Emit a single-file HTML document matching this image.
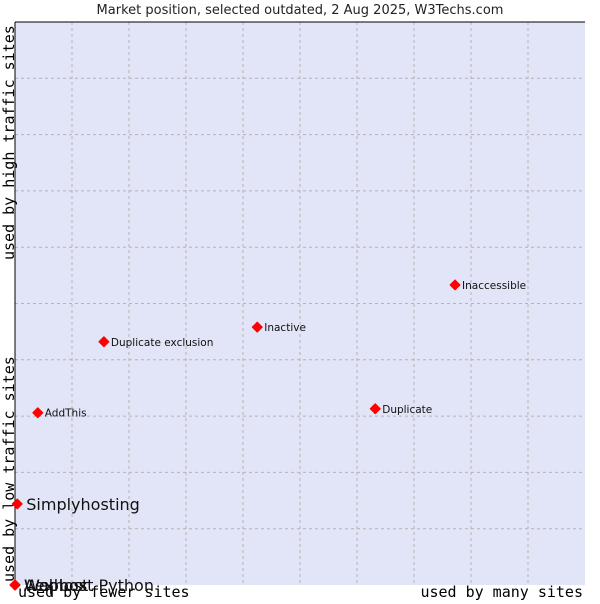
<!DOCTYPE html>
<html><head><meta charset="utf-8"><style>
body{margin:0;background:#fff;width:600px;height:600px;overflow:hidden;font-family:"DejaVu Sans","Liberation Sans",sans-serif}
</style></head><body>
<svg width="600" height="600">
<text x="300" y="14" text-anchor="middle" font-size="13" fill="#222">Market position, selected outdated, 2 Aug 2025, W3Techs.com</text>
<rect x="15" y="22" width="570" height="563" fill="#e2e4f7"/>
<g id="grid"></g>
<line x1="15" y1="22" x2="585" y2="22" stroke="#000"/>
<line x1="15" y1="22" x2="15" y2="585" stroke="#000"/>
<text transform="translate(14,260) rotate(-90)" font-family="DejaVu Sans Mono,Liberation Mono,monospace" font-size="15" fill="#000">used by high traffic sites</text>
<text transform="translate(14,582) rotate(-90)" font-family="DejaVu Sans Mono,Liberation Mono,monospace" font-size="15" fill="#000">used by low traffic sites</text>
<text x="18" y="597" font-family="DejaVu Sans Mono,Liberation Mono,monospace" font-size="15" fill="#000">used by fewer sites</text>
<text x="583" y="597" text-anchor="end" font-family="DejaVu Sans Mono,Liberation Mono,monospace" font-size="15" fill="#000">used by many sites</text>
<g id="pts"></g>
</svg>
<script>
const names=["Wapbox","Aexhost","Webhost Python","Simplyhosting","AddThis","Duplicate exclusion","Inactive","Duplicate","Inaccessible"];
const xVals=[0,0,0,0.004,0.040,0.156,0.425,0.632,0.772];
const yVals=[0,0,0,0.144,0.306,0.432,0.458,0.313,0.533];
const big=[true,true,true,true,false,false,false,false,false];
const X0=15,X1=585,Y0=585,Y1=22;
const sx=v=>X0+v*(X1-X0), sy=v=>Y0-v*(Y0-Y1);
const ns="http://www.w3.org/2000/svg";
const grid=document.getElementById('grid');
for(let i=1;i<10;i++){
 const l=document.createElementNS(ns,'line');
 l.setAttribute('x1',sx(i/10));l.setAttribute('x2',sx(i/10));l.setAttribute('y1',Y1);l.setAttribute('y2',Y0);
 l.setAttribute('stroke','#b4b4b4');l.setAttribute('stroke-dasharray','3,3');
 
 
 grid.appendChild(l);
 const h=document.createElementNS(ns,'line');
 h.setAttribute('y1',sy(i/10));h.setAttribute('y2',sy(i/10));h.setAttribute('x1',X0);h.setAttribute('x2',X1);
 h.setAttribute('stroke','#b4b4b4');h.setAttribute('stroke-dasharray','3,3');
 
 
 grid.appendChild(h);
}
const pts=document.getElementById('pts');
names.forEach((n,i)=>{
 const x=sx(xVals[i]),y=sy(yVals[i]);
 const p=document.createElementNS(ns,'polygon');
 p.setAttribute('points',`${x},${y-5} ${x+5},${y} ${x},${y+5} ${x-5},${y}`);
 p.setAttribute('fill','#f00');
 p.setAttribute('stroke','#f00');
 p.setAttribute('stroke-linejoin','round');
 
 
 pts.appendChild(p);
 const t=document.createElementNS(ns,'text');
 t.setAttribute('x',x+(big[i]?9:7));t.setAttribute('y',y+(big[i]?6:4));
 t.setAttribute('font-size',big[i]?16:10.5);t.setAttribute('fill','#111');
 t.textContent=n;
 
 
 pts.appendChild(t);
});
</script>
</body></html>
